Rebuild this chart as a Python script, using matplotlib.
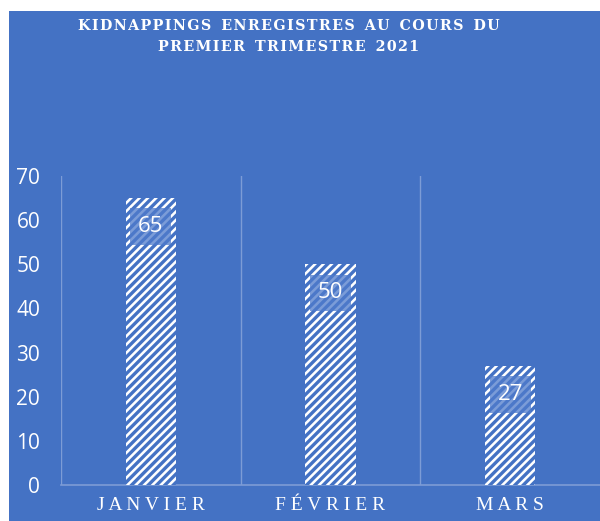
import matplotlib
matplotlib.use("Agg")
import matplotlib.pyplot as plt
from matplotlib.patches import Rectangle

# data
months = ["JANVIER", "FÉVRIER", "MARS"]
kidnappings = [65, 50, 27]
yticks = [0, 10, 20, 30, 40, 50, 60, 70]

BLUE = "#4472C4"
GRID = "#7D9CD6"

plt.rcParams["hatch.linewidth"] = 2.4

fig = plt.figure(figsize=(6, 5.21), dpi=100)
fig.patch.set_facecolor("white")

# blue chart area (white margin on left and top)
fig.patches.append(Rectangle((9 / 600, 0), 1, (521 - 11) / 521,
                             transform=fig.transFigure, facecolor=BLUE,
                             edgecolor="none", zorder=-10))

ax = fig.add_axes([61 / 600, 36 / 521, 539 / 600, 309 / 521])
ax.set_facecolor("none")

x = list(range(len(months)))
bars = ax.bar(x, kidnappings, width=0.28, color="white", edgecolor=BLUE,
              hatch="////", linewidth=0, zorder=3)

# value labels in a translucent box just under the top of each bar
for xi, v in zip(x, kidnappings):
    ax.text(xi, v - 6.5, str(v), ha="center", va="center", color="white",
            fontsize=16, family="Open Sans", zorder=5,
            bbox=dict(boxstyle="square,pad=0.35", facecolor="#4F7BCB",
                      edgecolor="none", alpha=0.75))

# category separators
for b in [-0.5, 0.5, 1.5]:
    ax.plot([b, b], [0, 70], color=GRID, lw=1.0, zorder=1)

ax.set_xlim(-0.5, 2.5)
ax.set_ylim(0, 70)
ax.set_yticks(yticks)
ax.set_yticklabels([str(t) for t in yticks], color="white", fontsize=15,
                   family="Open Sans")
ax.tick_params(axis="y", length=0, pad=15)
ax.set_xticks(x)
ax.set_xticklabels([" ".join(m) for m in months], color="white", fontsize=14,
                   family="Liberation Serif")
ax.tick_params(axis="x", length=0, pad=9)

for s in ["left", "right", "top"]:
    ax.spines[s].set_visible(False)
ax.spines["bottom"].set_color(GRID)
ax.spines["bottom"].set_linewidth(1.2)

def spaced(s):
    return "\u200a".join(s).replace("\u200a \u200a", "  ")

fig.text(289 / 600, 1 - 26 / 521, spaced("KIDNAPPINGS ENREGISTRES AU COURS DU"),
         ha="center", va="center", color="white", fontsize=10.3,
         fontweight="heavy", family=["DejaVu Serif", "DejaVu Sans"])
fig.text(289 / 600, 1 - 47 / 521, spaced("PREMIER TRIMESTRE 2021"),
         ha="center", va="center", color="white", fontsize=10.3,
         fontweight="heavy", family=["DejaVu Serif", "DejaVu Sans"])

fig.savefig("out.png", dpi=100)
